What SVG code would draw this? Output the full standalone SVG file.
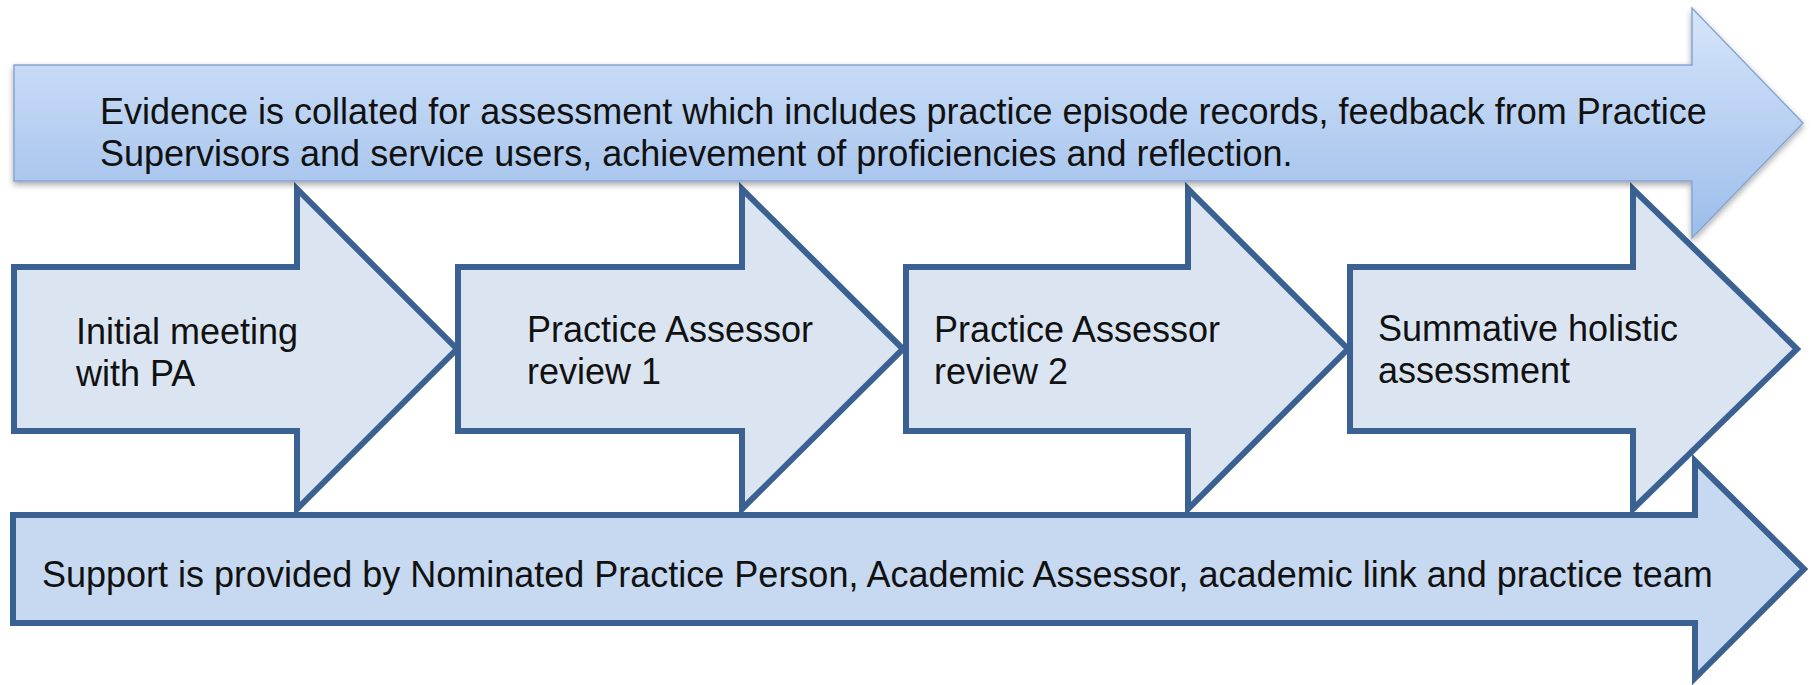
<svg xmlns="http://www.w3.org/2000/svg" width="1813" height="685" viewBox="0 0 1813 685">
  <defs>
    <linearGradient id="topGrad" gradientUnits="userSpaceOnUse" x1="0" y1="8" x2="0" y2="238">
      <stop offset="0" stop-color="#d6e5fa"/>
      <stop offset="1" stop-color="#9cbdea"/>
    </linearGradient>
    <filter id="shadow" x="-5%" y="-20%" width="110%" height="150%">
      <feDropShadow dx="0" dy="3" stdDeviation="3" flood-color="#000" flood-opacity="0.35"/>
    </filter>
  </defs>
  <style>
    .txt { font-family: "Liberation Sans", Arial, Helvetica, sans-serif; font-size: 36px; fill: #111111; }
    .step { fill: #dbe5f1; stroke: #3b6193; stroke-width: 6; stroke-linejoin: miter; }
    .support { fill: #c6d9f0; stroke: #3b6193; stroke-width: 6; stroke-linejoin: miter; }
    .evidence { fill: url(#topGrad); stroke: #86a5d1; stroke-width: 1.5; filter: url(#shadow); }
  </style>
  <rect x="0" y="0" width="1813" height="685" fill="#ffffff"/>

  <g id="connectors"></g>

  <g id="step1">
    <polygon class="step" points="14,267 297,267 297,189 457,349 297,509 297,431 14,431"/>
    <text class="txt" x="76" y="344">Initial meeting</text>
    <text class="txt" x="76" y="386">with PA</text>
  </g>
  <g id="step2">
    <polygon class="step" points="458,267 742,267 742,189 903,349 742,509 742,431 458,431"/>
    <text class="txt" x="527" y="342">Practice Assessor</text>
    <text class="txt" x="527" y="384">review 1</text>
  </g>
  <g id="step3">
    <polygon class="step" points="906,267 1188,267 1188,189 1348,349 1188,509 1188,431 906,431"/>
    <text class="txt" x="934" y="342">Practice Assessor</text>
    <text class="txt" x="934" y="384">review 2</text>
  </g>
  <g id="step4">
    <polygon class="step" points="1350,267 1633,267 1633,189 1797,349 1633,509 1633,431 1350,431"/>
    <text class="txt" x="1378" y="341">Summative holistic</text>
    <text class="txt" x="1378" y="383">assessment</text>
  </g>

  <g id="support">
    <polygon class="support" points="13,515 1695,515 1695,461 1804,569 1695,678 1695,623 13,623"/>
    <text class="txt" x="42" y="587">Support is provided by Nominated Practice Person, Academic Assessor, academic link and practice team</text>
  </g>

  <g id="evidence">
    <polygon class="evidence" points="14,65 1692,65 1692,8 1803,123 1692,238 1692,181 14,181"/>
    <text class="txt" x="100" y="124">Evidence is collated for assessment which includes practice episode records, feedback from Practice</text>
    <text class="txt" x="100" y="166">Supervisors and service users, achievement of proficiencies and reflection.</text>
  </g>
</svg>
